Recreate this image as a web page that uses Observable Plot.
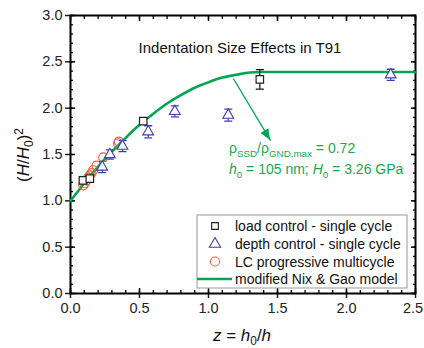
<!DOCTYPE html>
<html><head><meta charset="utf-8">
<script src="https://cdn.jsdelivr.net/npm/d3@7"></script>
<script src="https://cdn.jsdelivr.net/npm/@observablehq/plot@0.6"></script>
<style>
body{margin:0;background:#fff;font-family:"Liberation Sans",Arial,sans-serif}
#wrap{position:relative;width:424px;height:348px}
</style></head><body><div id="wrap"></div>
<script>
// ---- data ----
const xTicks = [0, 0.5, 1, 1.5, 2, 2.5];
const yTicks = [0, 0.5, 1, 1.5, 2, 2.5, 3];
const xMinor = d3.range(0, 2.501, 0.1);
const yMinor = d3.range(0, 3.001, 0.1);

const lcZ = [0.09, 0.14, 0.527, 1.372];
const lcY = [1.22, 1.24, 1.86, 2.31];
const lcErr = [0.02, 0.02, 0.02, 0.105];

const dcZ = [0.23, 0.285, 0.377, 0.563, 0.756, 1.143, 2.32];
const dcY = [1.365, 1.50, 1.59, 1.745, 1.965, 1.925, 2.36];
const dcErr = [0.06, 0.05, 0.06, 0.065, 0.06, 0.065, 0.06];

const mcZ = [0.092, 0.104, 0.116, 0.128, 0.14, 0.152, 0.164, 0.188, 0.237, 0.345, 0.35];
const mcY = [1.167, 1.19, 1.22, 1.25, 1.275, 1.30, 1.33, 1.38, 1.47, 1.62, 1.64];

const curveZ = [0, 0.1, 0.2, 0.3, 0.4, 0.5, 0.6, 0.7, 0.8, 0.9, 1.0, 1.1, 1.2, 1.3, 1.39, 2.5];
const curveY = [1.0, 1.19, 1.37, 1.53, 1.68, 1.82, 1.94, 2.05, 2.14, 2.22, 2.28, 2.33, 2.36, 2.385, 2.39, 2.39];

const arrowZ = [1.18, 1.45];
const arrowY = [2.32, 1.65];

const titleText = "Indentation Size Effects in T91";
const legendLabels = ["load control - single cycle", "depth control - single cycle", "LC progressive multicycle", "modified Nix & Gao model"];

// ---- build tables ----
const lc = lcZ.map((z, i) => ({z, y: lcY[i], lo: lcY[i] - lcErr[i], hi: lcY[i] + lcErr[i]}));
const dc = dcZ.map((z, i) => ({z, y: dcY[i], lo: dcY[i] - dcErr[i], hi: dcY[i] + dcErr[i]}));
const mc = mcZ.map((z, i) => ({z, y: mcY[i]}));
const curve = curveZ.map((z, i) => ({z, y: curveY[i]}));
const arrow = [{x1: arrowZ[0], y1: arrowY[0], x2: arrowZ[1], y2: arrowY[1]}];

const GREEN = "#00a651", TGREEN = "#16a84f", BLUE = "#3d3db0", RED = "#f06238";
const FONT = "'Liberation Sans', Arial, sans-serif";
const capShape = {draw(ctx, l) { ctx.moveTo(-l / 2, 0); ctx.lineTo(l / 2, 0); }};
const caps = (data, key, color) => Plot.vector(data, {x: "z", y: key, length: 7, shape: capShape, anchor: "start", stroke: color, strokeWidth: 1.3});
const blank = () => "";
const tk = {tickFormat: blank, label: null, stroke: "#000"};
const lastX = xTicks[xTicks.length - 1];

const chart = Plot.plot({
  width: 424, height: 348,
  marginLeft: 70, marginRight: 9, marginTop: 15, marginBottom: 55,
  style: {fontFamily: FONT, background: "#fff"},
  x: {domain: [0, 2.5]},
  y: {domain: [0, 3]},
  marks: [
    // axes: outward major ticks with labels
    Plot.axisY(yTicks, {anchor: "left", tickSize: 5, tickPadding: 3, tickFormat: d => d.toFixed(1), fontSize: 14.5, color: "#222", strokeWidth: 1.5, label: null}),
    Plot.axisX(xTicks, {anchor: "bottom", tickSize: 5, tickPadding: 4, tickFormat: d => d === lastX ? "" : d.toFixed(1), fontSize: 14.5, color: "#222", strokeWidth: 1.5, label: null}),
    Plot.axisX([lastX], {anchor: "bottom", tickSize: 0, tickPadding: 9, dx: -2.5, tickFormat: d => d.toFixed(1), fontSize: 14.5, color: "#222", label: null}),
    // inward ticks (shifted into the frame)
    Plot.axisY(yTicks, {...tk, anchor: "left", tickSize: 5, dx: 5, strokeWidth: 1.5}),
    Plot.axisY(yMinor, {...tk, anchor: "left", tickSize: 3, dx: 3, strokeWidth: 1.3}),
    Plot.axisY(yTicks, {...tk, anchor: "right", tickSize: 5, dx: -5, strokeWidth: 1.5}),
    Plot.axisY(yMinor, {...tk, anchor: "right", tickSize: 3, dx: -3, strokeWidth: 1.3}),
    Plot.axisX(xTicks, {...tk, anchor: "bottom", tickSize: 5, dy: -5, strokeWidth: 1.5}),
    Plot.axisX(xMinor, {...tk, anchor: "bottom", tickSize: 3, dy: -3, strokeWidth: 1.3}),
    Plot.axisX(xTicks, {...tk, anchor: "top", tickSize: 5, dy: 5, strokeWidth: 1.5}),
    Plot.axisX(xMinor, {...tk, anchor: "top", tickSize: 3, dy: 3, strokeWidth: 1.3}),
    Plot.frame({stroke: "#000", strokeWidth: 2}),
    // model curve
    Plot.line(curve, {x: "z", y: "y", stroke: GREEN, strokeWidth: 2.6, curve: "monotone-x"}),
    // error bars
    Plot.ruleX(dc, {x: "z", y1: "lo", y2: "hi", stroke: BLUE, strokeWidth: 1.2}),
    caps(dc, "lo", BLUE), caps(dc, "hi", BLUE),
    Plot.ruleX(lc, {x: "z", y1: "lo", y2: "hi", stroke: "#111", strokeWidth: 1.2}),
    caps(lc, "lo", "#111"), caps(lc, "hi", "#111"),
    // points
    Plot.dot(mc, {x: "z", y: "y", r: 4.5, stroke: RED, fill: "none", strokeWidth: 1.2}),
    Plot.dot(dc, {x: "z", y: "y", symbol: "triangle", r: 4, stroke: BLUE, fill: "#fff", strokeWidth: 1.1}),
    Plot.dot(lc, {x: "z", y: "y", symbol: "square", r: 4.2, stroke: "#222", fill: "#fff", strokeWidth: 1.2}),
    // arrow
    Plot.link(arrow, {x1: "x1", y1: "y1", x2: "x2", y2: "y2", stroke: GREEN, strokeWidth: 1.3}),
    // title
    Plot.text([titleText], {frameAnchor: "top", dy: 27, dx: -3, fontSize: 15, fill: "#111", text: d => d})
  ]
});

document.getElementById("wrap").appendChild(chart);

// ---- post-processing: rich text and arrow head ----
const svg = d3.select(chart);
const sx = chart.scale("x"), sy = chart.scale("y");

// filled arrow head
{
  const a = arrow[0];
  const X1 = sx.apply(a.x1), Y1 = sy.apply(a.y1), X2 = sx.apply(a.x2), Y2 = sy.apply(a.y2);
  const ang = Math.atan2(Y2 - Y1, X2 - X1);
  const L = 11, W = 4.5;
  const bx = X2 - L * Math.cos(ang), by = Y2 - L * Math.sin(ang);
  const px = -Math.sin(ang) * W, py = Math.cos(ang) * W;
  svg.append("path").attr("d", `M${X2},${Y2}L${bx + px},${by + py}L${bx - px},${by - py}Z`).attr("fill", GREEN);
}

function richText(x, y, parts, opts = {}) {
  const size = opts.size || 14;
  const t = svg.append("text").attr("x", x).attr("y", y)
    .attr("font-size", size).attr("fill", opts.fill || "#111")
    .attr("font-family", FONT)
    .attr("text-anchor", opts.anchor || "start");
  if (opts.transform) t.attr("transform", opts.transform);
  let shift = 0;
  for (const p of parts) {
    const s = t.append("tspan").text(p.t);
    const target = p.sub ? 4 : p.sup ? -6 : 0;
    if (target !== shift) { s.attr("dy", target - shift); shift = target; }
    if (p.sub || p.sup) s.attr("font-size", size * 0.7);
    if (p.i) s.attr("font-style", "italic");
  }
  return t;
}

// annotation
const annX = sx.apply(1.152);
richText(annX, sy.apply(1.51), [{t: "ρ"}, {t: "SSD", sub: true}, {t: "/ρ"}, {t: "GND,max", sub: true}, {t: " = 0.72"}], {fill: TGREEN, size: 14});
richText(annX, sy.apply(1.285), [{t: "h", i: true}, {t: "0", sub: true}, {t: " = 105 nm; "}, {t: "H", i: true}, {t: "0", sub: true}, {t: " = 3.26 GPa"}], {fill: TGREEN, size: 14});

// axis titles
richText(242, 341, [{t: "z", i: true}, {t: " = "}, {t: "h", i: true}, {t: "0", sub: true}, {t: "/"}, {t: "h", i: true}], {size: 17, anchor: "middle"});
richText(0, 0, [{t: "("}, {t: "H", i: true}, {t: "/"}, {t: "H", i: true}, {t: "0", sub: true}, {t: ")"}, {t: "2", sup: true}], {size: 17, anchor: "middle", transform: "translate(29,155) rotate(-90)"});

// legend
{
  const bx = 197, by = 215, bw = 210, bh = 73;
  const g = svg.append("g");
  g.append("rect").attr("x", bx).attr("y", by).attr("width", bw).attr("height", bh).attr("fill", "#fff").attr("stroke", "#999").attr("stroke-width", 1);
  const rows = [226, 244, 261.5, 279];
  const sym = [d3.symbolSquare, d3.symbolTriangle, d3.symbolCircle];
  const symCol = ["#222", BLUE, RED];
  const symSize = [45, 55, 65];
  legendLabels.forEach((lab, i) => {
    const cy = rows[i];
    if (i < 3) g.append("path").attr("d", d3.symbol(sym[i], symSize[i])()).attr("transform", `translate(215,${cy})`).attr("fill", "none").attr("stroke", symCol[i]).attr("stroke-width", 1.1);
    else g.append("line").attr("x1", bx).attr("x2", 232).attr("y1", cy).attr("y2", cy).attr("stroke", GREEN).attr("stroke-width", 2.6);
    g.append("text").attr("x", 235).attr("y", cy + 5).attr("font-size", 14).attr("fill", "#111").attr("text-anchor", "start").attr("font-family", FONT).text(lab);
  });
}
</script></body></html>
